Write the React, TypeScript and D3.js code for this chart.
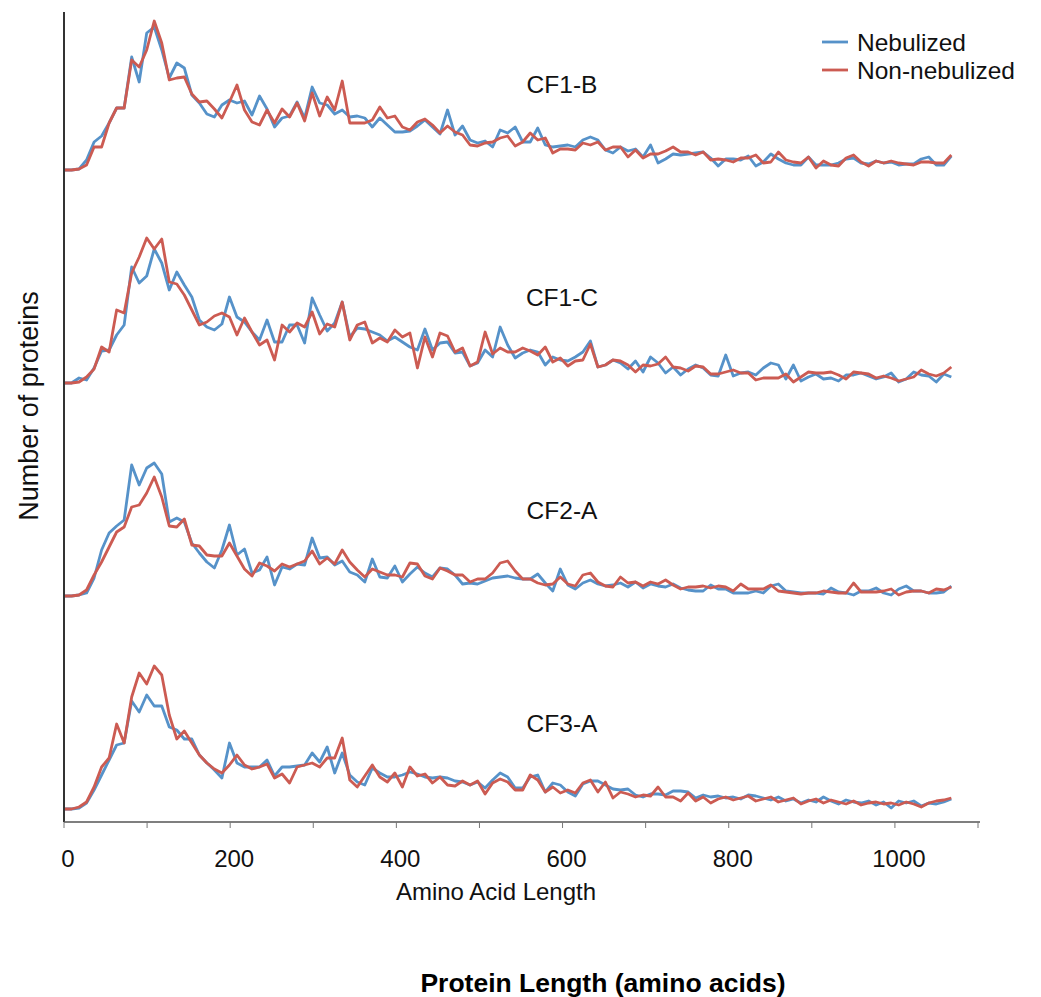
import React from "react";
import * as d3 from "d3";

// Bin width (amino acids) of the length histogram
const binWidth = 9.05;

const panels = ["CF1-B", "CF1-C", "CF2-A", "CF3-A"];
const seriesNames = ["Nebulized", "Non-nebulized"];
const xTicks = [0, 100, 200, 300, 400, 500, 600, 700, 800, 900, 1000, 1100];
const xTickLabels = ["0", "", "200", "", "400", "", "600", "", "800", "", "1000", ""];

const nebCF1B = [0,0,1,10,28,34,47,62,62,113,88,137,143,120,92,107,102,75,67,56,53,65,70,67,69,55,74,61,43,52,54,68,52,83,67,65,56,60,53,54,52,43,52,45,
38,38,39,44,50,43,36,60,35,44,30,27,29,23,40,37,43,28,28,42,25,23,24,25,23,30,33,30,20,17,23,19,21,13,25,7,11,16,15,16,17,18,12,
4,11,11,10,14,4,8,16,11,7,5,5,13,5,5,5,7,11,12,7,6,9,7,8,5,6,6,11,13,5,5,14];
const nonCF1B = [0,0,1,5,23,23,47,62,62,110,103,120,149,127,90,92,93,76,68,69,61,52,68,85,60,48,45,60,47,61,53,67,49,77,54,73,60,89,47,47,47,50,63,52,
54,43,40,48,51,45,37,44,38,35,25,24,27,28,32,34,24,28,37,30,32,17,21,21,20,27,25,28,20,23,23,13,20,12,16,16,19,23,18,18,15,18,10,
11,10,8,12,12,15,7,8,18,10,8,7,13,2,9,5,4,12,15,8,4,9,7,9,7,6,5,8,8,7,7,15];

const nebCF1C = [0,0,5,3,15,32,33,48,58,116,100,107,134,120,93,111,98,86,63,56,53,59,86,66,61,51,43,63,41,41,58,58,40,85,68,52,60,81,46,55,54,51,48,42,
46,41,36,33,54,33,40,41,30,31,17,20,33,26,56,38,25,30,33,31,18,26,23,22,26,31,42,16,18,23,20,14,22,11,26,20,10,16,8,14,18,15,8,
7,28,7,10,11,8,15,20,18,4,18,2,6,9,4,5,2,8,8,10,7,4,6,10,1,4,11,8,7,1,9,6];
const nonCF1C = [0,0,1,6,14,36,31,73,70,110,126,145,134,144,101,99,88,73,58,61,67,70,66,48,65,51,38,43,23,58,51,60,56,71,49,59,56,81,43,58,61,40,45,41,
53,46,50,15,46,26,50,47,31,35,17,21,51,29,35,31,31,35,32,28,36,21,25,17,22,23,39,16,18,23,22,18,11,18,17,19,26,16,15,12,17,16,9,
9,11,13,10,10,3,5,5,5,9,1,6,11,10,10,11,8,4,11,10,9,5,7,5,2,4,6,13,9,7,10,16];

const nebCF2A = [0,0,1,3,18,46,63,70,76,131,111,128,133,122,74,78,74,53,43,34,28,46,71,41,47,23,26,39,11,29,27,32,31,58,38,39,31,35,24,21,14,37,19,18,
30,14,22,29,23,19,28,27,21,12,13,12,15,18,19,20,18,17,17,22,13,5,27,11,7,13,16,12,10,11,13,9,14,8,12,10,9,12,8,6,5,5,11,
7,7,3,3,3,5,3,10,12,5,4,3,3,3,2,8,4,3,1,5,5,8,3,1,7,10,5,5,3,3,4,10];
const nonCF2A = [0,0,1,6,21,34,49,64,69,89,91,103,119,99,70,69,77,51,50,41,40,40,53,40,27,20,33,30,25,32,29,32,35,45,32,38,32,46,34,26,19,27,24,21,
21,19,33,32,20,17,28,25,21,21,14,17,17,23,33,35,25,17,17,13,11,12,19,12,10,21,23,14,10,9,19,13,14,10,14,12,16,11,7,9,9,10,8,
10,9,5,12,7,7,7,11,5,4,3,2,3,3,5,4,3,3,13,4,4,4,5,7,1,4,5,5,3,7,6,9];

const nebCF3A = [0,0,1,6,19,34,49,64,66,108,97,114,103,103,82,79,70,70,54,46,39,31,66,46,42,42,42,49,33,42,42,43,44,56,47,62,36,56,34,27,24,41,36,32,
32,34,37,35,32,31,32,31,28,27,24,27,21,29,36,32,21,21,32,34,17,26,24,17,13,25,28,28,24,20,19,20,14,12,15,15,14,18,18,17,11,14,12,
13,11,12,10,14,13,11,9,12,8,10,6,9,7,12,8,5,9,7,6,8,4,7,1,8,6,8,3,6,5,7,10];
const nonCF3A = [0,0,2,7,22,42,51,85,66,112,136,125,143,134,94,70,78,66,54,46,40,36,44,54,44,40,42,45,31,35,26,42,44,46,42,51,51,71,29,22,33,44,32,27,
36,22,42,33,35,26,32,24,23,28,24,28,15,26,30,27,19,19,34,29,17,22,16,19,16,26,29,17,27,11,17,15,12,14,13,22,12,12,8,16,8,12,6,
10,12,9,11,13,8,10,12,7,9,11,5,8,10,6,9,7,5,8,4,6,7,5,6,4,7,5,2,6,8,9,11];

const nebulized = [nebCF1B, nebCF1C, nebCF2A, nebCF3A];
const nonNebulized = [nonCF1B, nonCF1C, nonCF2A, nonCF3A];

const BLUE = "#5692c9";
const RED = "#cc5b52";
const FONT = "'Liberation Sans', Arial, Helvetica, sans-serif";

export default function App() {
  const W = 1041, H = 997;
  const x = d3.scaleLinear().domain([0, 1100]).range([64, 978]);
  const baselines = [170, 383, 596, 809];
  const axisY = 822;

  const makeLine = (base: number) => {
    const y = d3.scaleLinear().domain([0, 150]).range([base, base - 150]);
    return d3
      .line<number>()
      .x((_, i) => x(i * binWidth))
      .y((v) => y(v));
  };

  return (
    <svg
      width={W}
      height={H}
      style={{ position: "absolute", left: 0, top: 0, background: "#fff" }}
      fontFamily={FONT}
    >
      {panels.map((name, p) => {
        const line = makeLine(baselines[p]);
        return (
          <g key={name}>
            <path d={line(nebulized[p]) || ""} fill="none" stroke={BLUE} strokeWidth={2.8} strokeLinejoin="round" />
            <path d={line(nonNebulized[p]) || ""} fill="none" stroke={RED} strokeWidth={2.8} strokeLinejoin="round" />
            <text x={562} y={baselines[p] - 77} textAnchor="middle" fontSize={24.5} fill="#111">
              {name}
            </text>
          </g>
        );
      })}

      {/* y axis */}
      <line x1={64} x2={64} y1={12} y2={axisY} stroke="#333" strokeWidth={2} />
      {/* x axis */}
      <line x1={64} x2={980} y1={axisY} y2={axisY} stroke="#555" strokeWidth={1.5} />
      {xTicks.map((t, i) => (
        <g key={t}>
          <line x1={x(t)} x2={x(t)} y1={axisY} y2={axisY + 6} stroke="#777" strokeWidth={1} />
          {xTickLabels[i] && (
            <text x={x(t) + 4} y={867} textAnchor="middle" fontSize={24} fill="#111">
              {xTickLabels[i]}
            </text>
          )}
        </g>
      ))}

      <text x={496} y={900} textAnchor="middle" fontSize={24} fill="#111">
        Amino Acid Length
      </text>
      <text x={603} y={992} textAnchor="middle" fontSize={26.5} fontWeight="bold" fill="#000">
        Protein Length (amino acids)
      </text>
      <text transform={`translate(38, 406) rotate(-90)`} textAnchor="middle" fontSize={27} fill="#111">
        Number of proteins
      </text>

      {/* legend */}
      {seriesNames.map((s, i) => (
        <g key={s} transform={`translate(822, ${42 + i * 28})`}>
          <line x1={0} x2={26} y1={0} y2={0} stroke={i === 0 ? BLUE : RED} strokeWidth={2.8} />
          <text x={35} y={8.5} fontSize={24.5} fill="#111">
            {s}
          </text>
        </g>
      ))}
    </svg>
  );
}
